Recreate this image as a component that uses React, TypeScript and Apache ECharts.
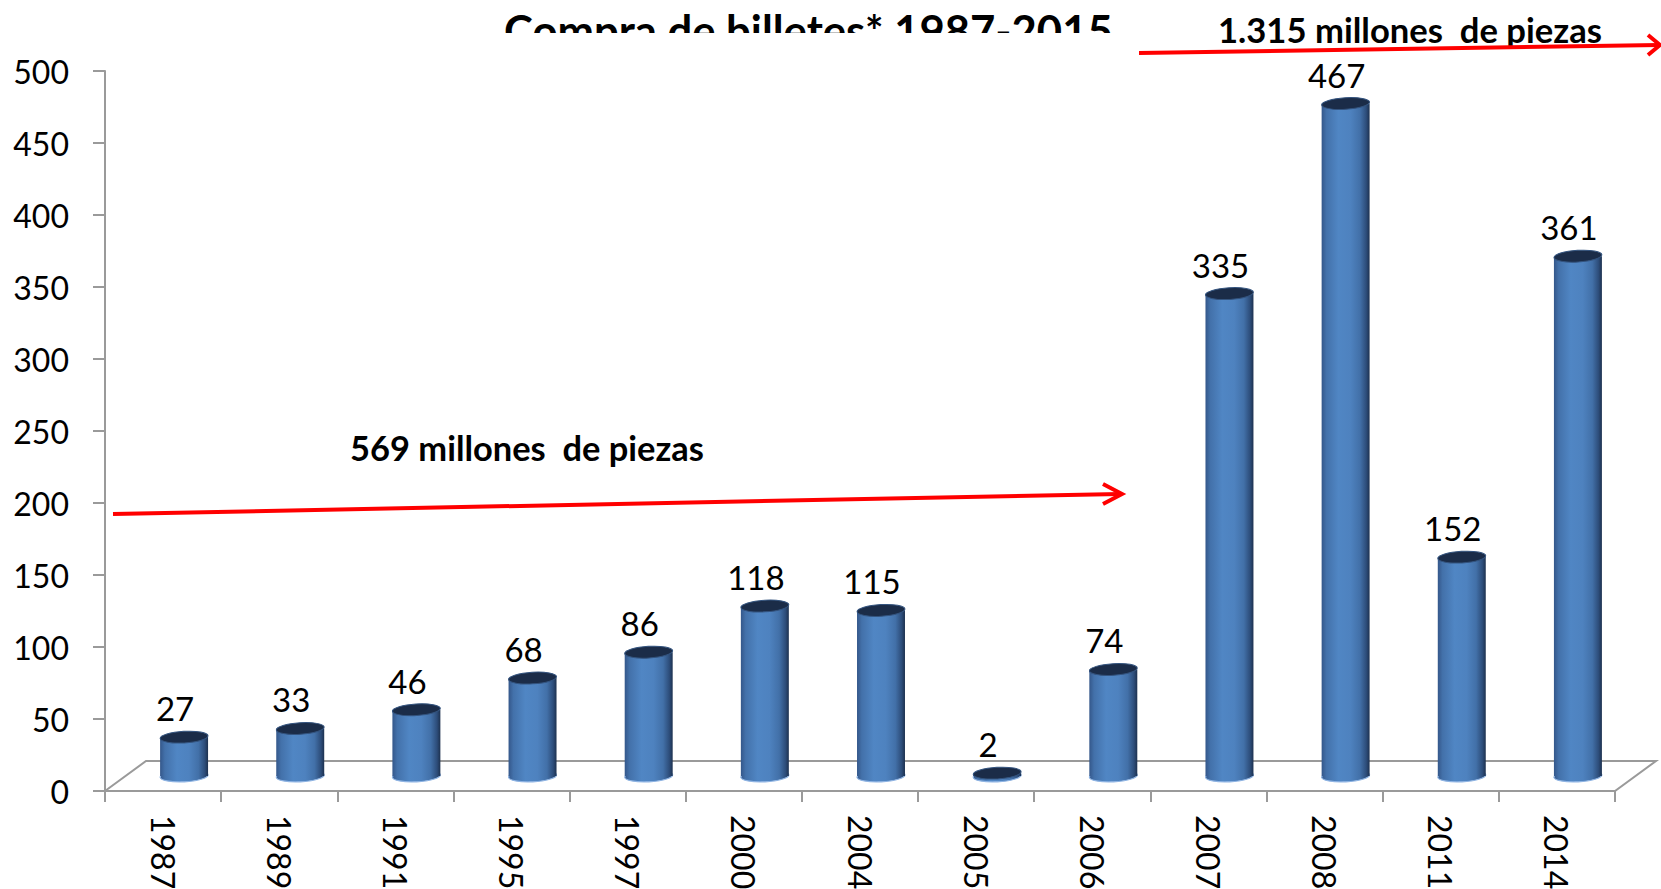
import React, { useEffect, useRef } from "react";
import * as echarts from "echarts";

const years = ["1987", "1989", "1991", "1995", "1997", "2000", "2004", "2005", "2006", "2007", "2008", "2011", "2014"];
const values = [27, 33, 46, 68, 86, 118, 115, 2, 74, 335, 467, 152, 361];
const yMin = 0;
const yMax = 500;
const yInterval = 50;
const titleText = "Compra de billetes* 1987-2015";
const noteBefore = "569 millones  de piezas";
const noteAfter = "1.315 millones  de piezas";

const FONT = "Lato, 'Open Sans', 'DejaVu Sans', sans-serif";
const AXIS_GRAY = "#9a9a9a";
const RED = "#ff0000";

function fitSize(text: string, weight: string, target: number): number {
  const ctx = document.createElement("canvas").getContext("2d");
  if (!ctx) return 30;
  ctx.font = `${weight} 100px Lato`;
  const w = ctx.measureText(text).width;
  return (100 * target) / w;
}

function bodyFill() {
  return new echarts.graphic.LinearGradient(0, 0, 1, 0, [
    { offset: 0, color: "#34578a" },
    { offset: 0.1, color: "#4371aa" },
    { offset: 0.35, color: "#5086c4" },
    { offset: 0.6, color: "#4e82bf" },
    { offset: 0.8, color: "#4270a8" },
    { offset: 0.93, color: "#2d4d7a" },
    { offset: 1, color: "#1d314f" },
  ]);
}

export default function App() {
  const ref = useRef<HTMLDivElement>(null);

  useEffect(() => {
    const el = ref.current;
    if (!el) return;
    const chart = echarts.init(el, null, { renderer: "svg" });
    const DX = 21;
    const DY = -15;
    const FLOOR_DX = 41;
    const FLOOR_DY = -30;

    const titleSize = fitSize(titleText, "bold", 609);
    const noteSize = fitSize(noteAfter, "bold", 384);
    const noteSize2 = fitSize(noteBefore, "bold", 354);

    const option: any = {
      animation: false,
      backgroundColor: "#ffffff",
      grid: {
        left: 105,
        right: 46,
        top: 71,
        bottom: 98,
        containLabel: false,
        outerBoundsMode: "none",
      },
      xAxis: {
        type: "category",
        data: years,
        boundaryGap: true,
        axisLine: { show: true, lineStyle: { color: AXIS_GRAY, width: 2 } },
        axisTick: { show: true, length: 11, lineStyle: { color: AXIS_GRAY, width: 2 } },
        axisLabel: { rotate: -90, margin: 24, fontSize: 32, fontFamily: FONT, color: "#000" },
        splitLine: { show: false },
      },
      yAxis: {
        type: "value",
        min: yMin,
        max: yMax,
        interval: yInterval,
        axisLine: { show: true, lineStyle: { color: AXIS_GRAY, width: 2 } },
        axisTick: { show: true, length: 12, lineStyle: { color: AXIS_GRAY, width: 2 } },
        axisLabel: { margin: 36, fontSize: 32, fontFamily: FONT, color: "#000" },
        splitLine: { show: false },
      },
      series: [
        {
          type: "custom",
          name: "floor",
          silent: true,
          z: 1,
          data: [[0, 0]],
          renderItem: (params: any) => {
            const cs = params.coordSys;
            const x0 = cs.x;
            const x1 = cs.x + cs.width;
            const yb = cs.y + cs.height;
            return {
              type: "polygon",
              shape: {
                points: [
                  [x0, yb],
                  [x0 + FLOOR_DX, yb + FLOOR_DY],
                  [x1 + FLOOR_DX, yb + FLOOR_DY],
                  [x1, yb],
                ],
              },
              style: { fill: "none", stroke: AXIS_GRAY, lineWidth: 2 },
            };
          },
        },
        {
          type: "custom",
          name: "billetes",
          z: 3,
          encode: { x: 0, y: 1 },
          data: values.map((v, i) => [i, v]),
          renderItem: (params: any, api: any) => {
            const i = api.value(0);
            const v = api.value(1);
            const top = api.coord([i, v]);
            const base = api.coord([i, 0]);
            const w = api.size([1, 0])[0] * 0.413;
            const rx = w / 2;
            const ry = 5.8;
            const cx = top[0] + DX;
            const ty = top[1] + DY;
            const by = base[1] + DY;
            return {
              type: "group",
              children: [
                {
                  type: "ellipse",
                  shape: { cx: 0, cy: 0, rx, ry },
                  x: cx,
                  y: by,
                  rotation: 0.05,
                  style: { fill: bodyFill(), stroke: "#8fb4e3", lineWidth: 1.2 },
                },
                {
                  type: "rect",
                  shape: { x: cx - rx, y: ty, width: w, height: Math.max(by - ty, 0) },
                  style: { fill: bodyFill() },
                },
                {
                  type: "ellipse",
                  shape: { cx: 0, cy: 0, rx, ry },
                  x: cx,
                  y: ty,
                  rotation: 0.06,
                  style: { fill: "#1b2c48", stroke: "#34547f", lineWidth: 1 },
                },
                {
                  type: "text",
                  x: cx - 9,
                  y: ty - 29,
                  style: {
                    text: String(v),
                    fontSize: 33,
                    fontFamily: FONT,
                    fill: "#000",
                    align: "center",
                    verticalAlign: "middle",
                  },
                },
              ],
            };
          },
        },
      ],
      graphic: [
        {
          type: "text",
          x: 504,
          y: 15 + 0.333 * titleSize,
          z: 10,
          style: {
            text: titleText,
            fontSize: titleSize,
            fontWeight: "bold",
            fontFamily: FONT,
            fill: "#000",
            align: "left",
            verticalAlign: "middle",
          },
        },
        {
          type: "rect",
          z: 11,
          shape: { x: 490, y: 33, width: 640, height: 30 },
          style: { fill: "#ffffff" },
        },
        {
          type: "text",
          x: 1218,
          y: 18 + 0.333 * noteSize,
          z: 12,
          style: {
            text: noteAfter,
            fontSize: noteSize,
            fontWeight: "bold",
            fontFamily: FONT,
            fill: "#000",
            align: "left",
            verticalAlign: "middle",
          },
        },
        {
          type: "text",
          x: 350,
          y: 436 + 0.333 * noteSize2,
          z: 12,
          style: {
            text: noteBefore,
            fontSize: noteSize2,
            fontWeight: "bold",
            fontFamily: FONT,
            fill: "#000",
            align: "left",
            verticalAlign: "middle",
          },
        },
        {
          type: "line",
          z: 12,
          shape: { x1: 113, y1: 514, x2: 1120, y2: 494 },
          style: { stroke: RED, lineWidth: 4 },
        },
        {
          type: "polyline",
          z: 12,
          shape: { points: [[1103, 484], [1122, 494], [1103, 504]] },
          style: { stroke: RED, lineWidth: 4, fill: "none" },
        },
        {
          type: "line",
          z: 12,
          shape: { x1: 1139, y1: 53, x2: 1659, y2: 45 },
          style: { stroke: RED, lineWidth: 4 },
        },
        {
          type: "polyline",
          z: 12,
          shape: { points: [[1648, 35], [1660, 45], [1648, 55]] },
          style: { stroke: RED, lineWidth: 4, fill: "none" },
        },
      ],
    };

    chart.setOption(option);
    return () => chart.dispose();
  }, []);

  return (
    <div
      ref={ref}
      style={{ position: "absolute", left: 0, top: 0, width: 1661, height: 889 }}
    />
  );
}
